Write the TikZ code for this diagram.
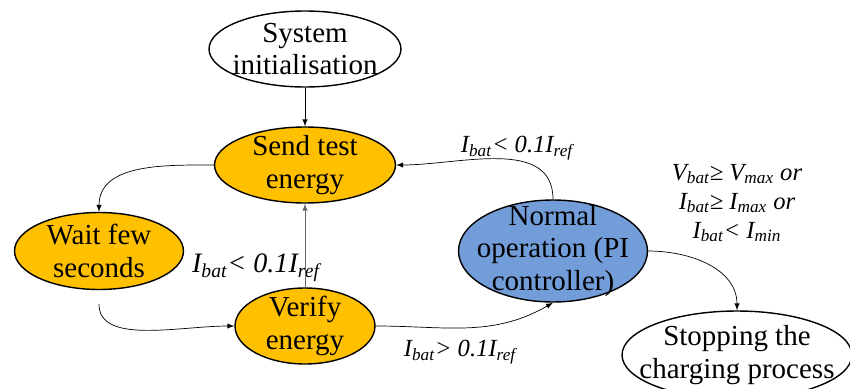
\documentclass[tikz,border=0pt]{standalone}
\usepackage{fontspec}
\setmainfont{Liberation Serif}
\usetikzlibrary{shapes.geometric}
\definecolor{stateorange}{RGB}{255,192,0}
\definecolor{stateblue}{RGB}{114,157,216}
\begin{document}
\begin{tikzpicture}[x = 0.02cm, y = -0.02cm,
  state/.style = {ellipse, draw = black, thick, inner xsep = -10pt, inner ysep = -15pt, align = center,
    font = \rmfamily\fontsize{16.5}{18.5}\selectfont},
  cond/.style = {align = center, inner sep = 1pt, font = \rmfamily\fontsize{14}{16.5}\selectfont\itshape}]
\useasboundingbox (0, 0) rectangle (850, 389);
%\draw[step = 50, gray, very thin] (0, 0) grid (850, 389);
\node[state, fill = white, minimum width = 3.84cm, minimum height = 1.52cm] (init) at (305, 49) {System\\initialisation};
\node[state, fill = stateorange, minimum width = 3.62cm, minimum height = 1.52cm] (send) at (305, 165) {Send test\\energy};
\node[state, fill = stateorange, minimum width = 3.38cm, minimum height = 1.54cm] (wait) at (99, 251) {Wait few\\seconds};
\node[state, fill = stateorange, minimum width = 2.8cm, minimum height = 1.52cm] (verify) at (305, 326) {Verify\\energy};
\node[state, fill = stateblue, minimum width = 3.78cm, minimum height = 2.04cm] (normal) at (553, 251) {Normal\\operation (PI\\controller)};
\node[state, fill = white, minimum width = 4.6cm, minimum height = 1.76cm] (stop) at (737, 355) {Stopping the\\charging process};
% conditions
\node[cond] (condA) at (517, 148) {I\textsubscript{bat}< 0.1I\textsubscript{ref}};
\node[cond, font = \rmfamily\fontsize{16}{18}\selectfont\itshape] (condB) at (256, 268) {I\textsubscript{bat}< 0.1I\textsubscript{ref}};
\node[cond] (condC) at (460, 352) {I\textsubscript{bat}> 0.1I\textsubscript{ref}};
\node[cond] (condD) at (737, 203) {V\textsubscript{bat}≥ V\textsubscript{max} or\\I\textsubscript{bat}≥ I\textsubscript{max} or\\I\textsubscript{bat}< I\textsubscript{min}};
% transitions
\draw[-latex] (init) -- (send);
\draw[-latex] (send.west) to[out = 180, in = 90] (wait.north);
\draw[-latex, shorten < = 8pt] (wait.south) to[out = -90, in = 180] (verify.west);
\draw[-latex, gray!80!black] (verify.north) -- (send.south);
\draw[-latex] (verify.east) to[out = 0, in = -150] (normal.south);
\draw[-latex] (normal.north) to[out = 90, in = 0] (send.east);
\draw[-latex] (normal.east) to[out = 0, in = 90] (stop.north);
\end{tikzpicture}
\end{document}
